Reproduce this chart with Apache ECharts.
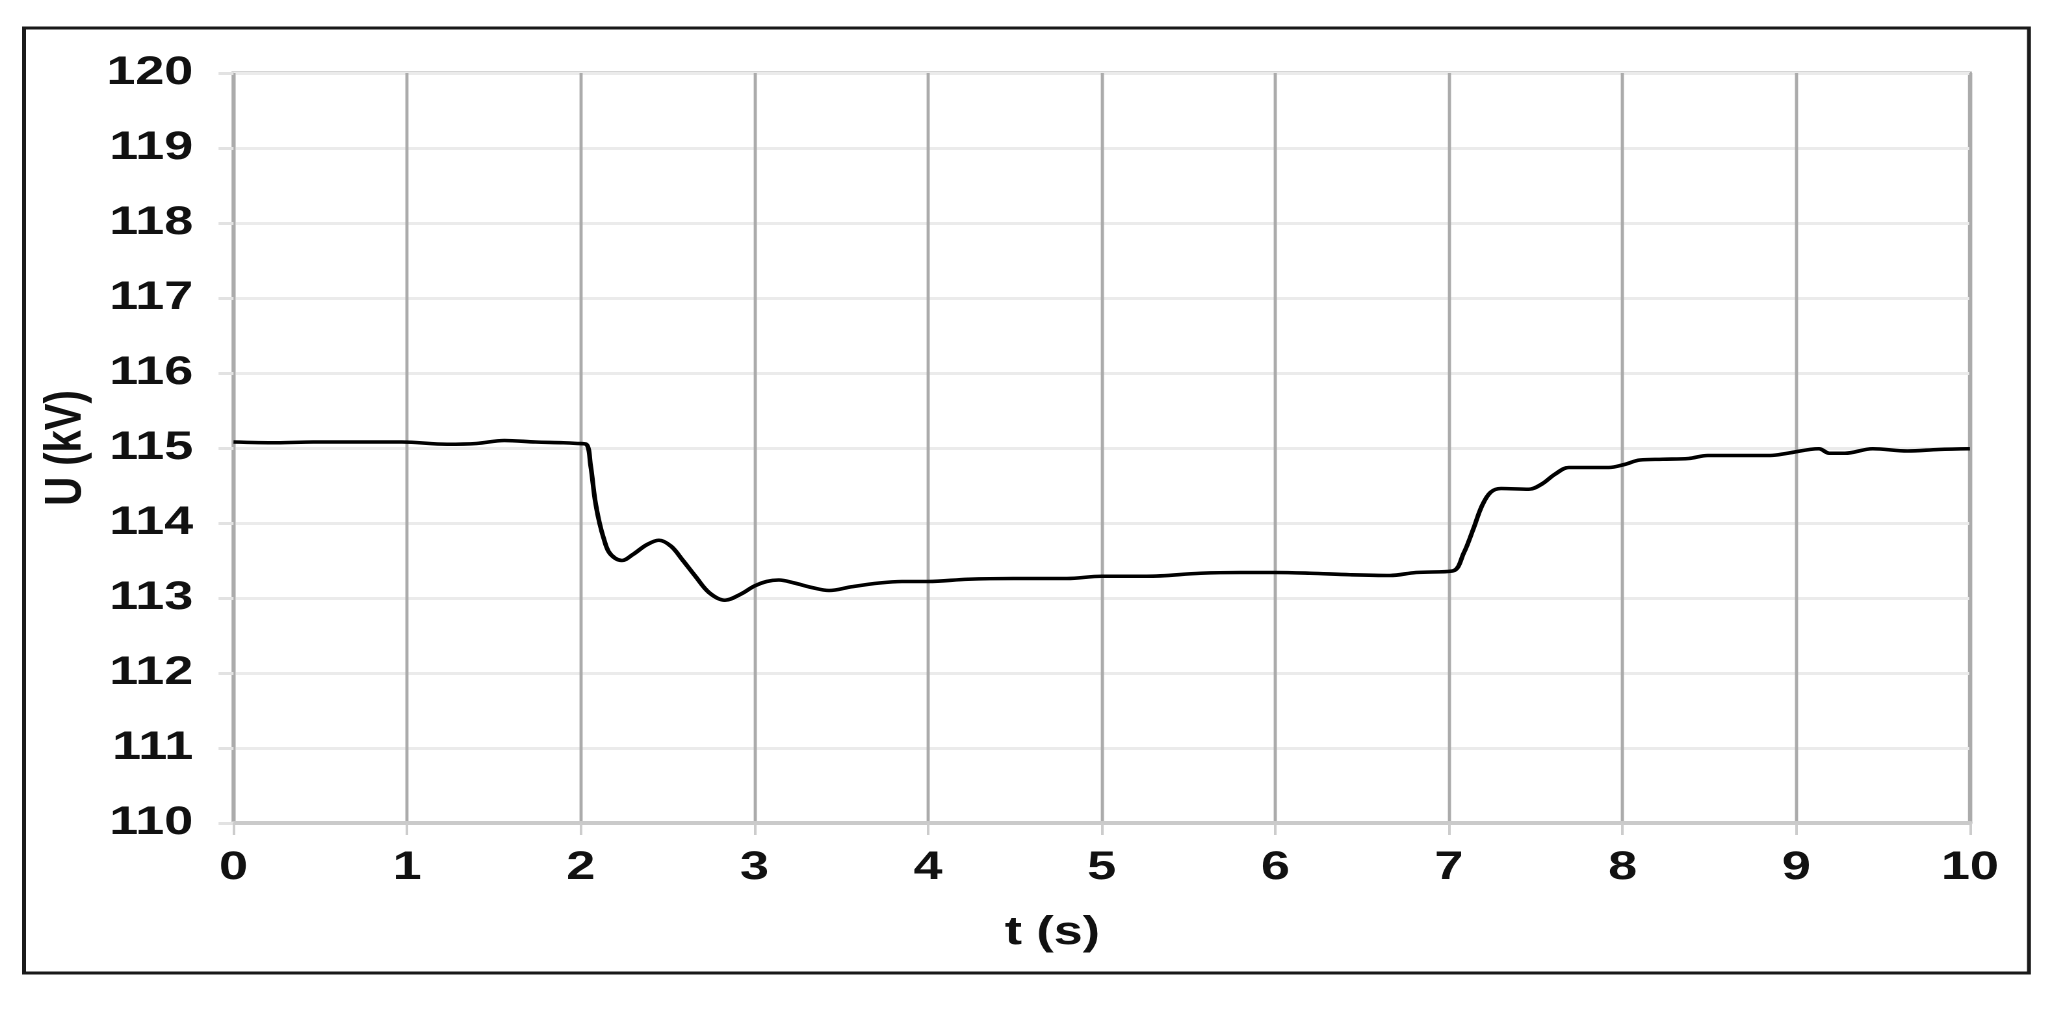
<!DOCTYPE html>
<html>
<head>
<meta charset="utf-8">
<script src="https://cdn.jsdelivr.net/npm/echarts@6/dist/echarts.min.js"></script>
<style>
html, body { margin: 0; padding: 0; background: #ffffff; overflow: hidden; }
#chart { width: 1577px; height: 1010px; transform: scaleX(1.29994); transform-origin: 0 0; }
</style>
</head>
<body>
<div id="chart"></div>
<script>
// Time (s)
const tValues = [0, 0.25, 0.46, 0.75, 0.97, 1.23, 1.4, 1.56, 1.74, 1.9,
  1.98, 2.031, 2.057, 2.082, 2.108, 2.134, 2.16, 2.198, 2.237, 2.30,
  2.38, 2.45, 2.52, 2.585, 2.66, 2.74, 2.83, 2.92, 3.0, 3.07,
  3.14, 3.23, 3.33, 3.43, 3.56, 3.72, 3.85, 4.0, 4.23, 4.49,
  4.80, 5.0, 5.26, 5.57, 5.8, 6.0, 6.2, 6.43, 6.66, 6.81,
  7.02, 7.085, 7.14, 7.19, 7.24, 7.30, 7.46, 7.535, 7.61, 7.69,
  7.79, 7.92, 8.01, 8.10, 8.23, 8.38, 8.49, 8.69, 8.85, 8.95,
  9.13, 9.19, 9.28, 9.44, 9.64, 9.82, 10];
// Voltage U (kV)
const uValues = [115.08, 115.07, 115.08, 115.08, 115.08, 115.05, 115.06, 115.10, 115.08, 115.07,
  115.06, 115.05, 114.76, 114.31, 114.00, 113.78, 113.62, 113.53, 113.50, 113.58,
  113.71, 113.77, 113.69, 113.51, 113.29, 113.07, 112.97, 113.05, 113.16, 113.22,
  113.24, 113.20, 113.14, 113.10, 113.15, 113.20, 113.22, 113.22, 113.25, 113.26,
  113.26, 113.29, 113.29, 113.33, 113.34, 113.34, 113.33, 113.31, 113.30, 113.34,
  113.36, 113.60, 113.92, 114.23, 114.41, 114.46, 114.45, 114.52, 114.65, 114.74,
  114.74, 114.74, 114.78, 114.84, 114.85, 114.86, 114.90, 114.90, 114.90, 114.93,
  114.99, 114.93, 114.93, 114.99, 114.96, 114.98, 114.99];
const xTickLabels = ['0','1','2','3','4','5','6','7','8','9','10'];
const yTickLabels = ['110','111','112','113','114','115','116','117','118','119','120'];
const xName = 't (s)';
const yName = 'U (kV)';

const FONT = "'Liberation Sans', Arial, sans-serif";
const chart = echarts.init(document.getElementById('chart'), null, { renderer: 'canvas', devicePixelRatio: 2 });
const seriesData = tValues.map((t, i) => [t, uValues[i]]);

chart.setOption({
  animation: false,
  backgroundColor: '#ffffff',
  graphic: [{
    type: 'rect',
    silent: true,
    z: 100,
    shape: { x: 18.5, y: 28, width: 1542.3, height: 945 },
    style: { fill: 'none', stroke: '#1a1a1a', lineWidth: 3 }
  }],
  grid: {
    left: 179.6, right: 61.6, top: 73, bottom: 187,
    show: true, borderColor: '#ababab', borderWidth: 3, backgroundColor: 'transparent'
  },
  xAxis: {
    type: 'value', min: 0, max: 10, interval: 1,
    name: xName, nameLocation: 'middle', nameGap: 90,
    nameTextStyle: { fontFamily: FONT, fontWeight: 'bold', fontSize: 40, color: '#111', padding: [0, 76, 0, 0] },
    axisLine: { show: true, onZero: false, lineStyle: { color: '#cacaca', width: 4 } },
    axisTick: { show: true, length: 12, lineStyle: { color: '#cccccc', width: 2 } },
    axisLabel: {
      margin: 25, fontFamily: FONT, fontWeight: 'bold', fontSize: 40, color: '#111',
      showMinLabel: true, showMaxLabel: true,
      formatter: v => xTickLabels[Math.round(v)]
    },
    splitLine: { show: true, lineStyle: { color: '#ababab', width: 2.4 } }
  },
  yAxis: {
    type: 'value', min: 110, max: 120, interval: 1,
    name: yName, nameLocation: 'middle', nameGap: 101,
    nameTextStyle: { fontFamily: FONT, fontWeight: 'bold', fontSize: 40, color: '#111' },
    axisLine: { show: false },
    axisTick: { show: true, length: 11.5, lineStyle: { color: '#e2e2e2', width: 3 } },
    axisLabel: {
      margin: 31, fontFamily: FONT, fontWeight: 'bold', fontSize: 40, color: '#111',
      showMinLabel: true, showMaxLabel: true,
      formatter: v => yTickLabels[Math.round(v - 110)]
    },
    splitLine: { show: true, lineStyle: { color: '#ebebeb', width: 3 } }
  },
  series: [{
    type: 'line',
    data: seriesData,
    showSymbol: false,
    smooth: 0.35,
    lineStyle: { color: '#000000', width: 3.6 },
    z: 5
  }]
});
</script>
</body>
</html>
